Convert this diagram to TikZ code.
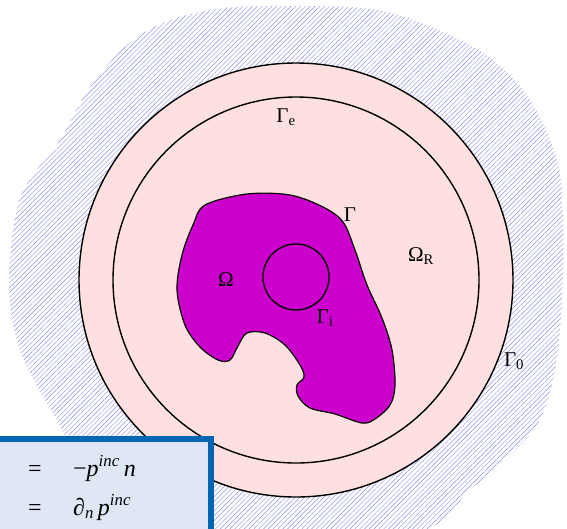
\documentclass[tikz,border=0pt]{standalone}
\usepackage{fontspec}
\setmainfont{Liberation Serif}
\usetikzlibrary{patterns.meta}
\definecolor{hatchc}{RGB}{140,140,240}
\definecolor{pinkc}{RGB}{255,224,224}
\definecolor{magc}{RGB}{204,0,204}
\definecolor{boxfill}{RGB}{223,230,244}
\definecolor{boxline}{RGB}{0,102,179}
\tikzset{
  lbl/.style={inner sep=0pt, font=\fontsize{21}{21}\selectfont},
  eqn/.style={inner sep=0pt, anchor=base west, font=\fontsize{24}{24}\selectfont},
  ring/.style={draw=black, line width=1.4pt},
}
\begin{document}
\begin{tikzpicture}[x=1pt,y=-1pt]
\useasboundingbox (0,0) rectangle (567,528);
\clip (0,0) rectangle (567,528);
\fill[white] (0,0) rectangle (567,528);
% hatched exterior region
\path[fill=white, pattern={Lines[angle=45,distance=3.4pt,line width=0.45pt]}, pattern color=hatchc]
  plot[smooth cycle, tension=0.6] coordinates {
  (60,140) (93,83) (143,33) (210,10) (293,6) (377,10) (443,32) (493,60)
  (530,100) (557,160) (563,220) (562,300) (555,370) (540,420) (515,450)
  (470,490) (425,530) (300,560) (120,520) (57,420) (20,350) (9,283) (18,205) (38,168)};
% outer circle
\draw[ring, fill=pinkc] (296,280) circle[radius=217];
% inner circle
\draw[ring] (296,280) circle[radius=183];
% scatterer
\draw[draw=black, line width=1.2pt, fill=magc]
  plot[smooth cycle, tension=0.55] coordinates {
  (205,205) (247,194) (290,195) (323,207) (343,222) (355,250) (367,285)
  (382,318) (392,350) (395,385) (390,405) (375,419) (362,423) (335,414)
  (310,408) (298,396) (297,385) (304,377) (300,365) (285,345) (265,333)
  (247,333) (238,346) (230,360) (218,360) (200,347) (185,325) (177,290)
  (182,255) (193,225)};
% inner small circle
\draw[ring] (296,277) circle[radius=33];
% labels
\node[lbl] (ge) at (286,117) {Γ\textsubscript{e}};
\node[lbl] (om) at (226,280) {Ω};
\node[lbl] (ga) at (350,215) {Γ};
\node[lbl] (gi) at (325,318) {Γ\textsubscript{i}};
\node[lbl] (omr) at (421,256) {Ω\textsubscript{R}};
\node[lbl] (g0) at (514,361) {Γ\textsubscript{0}};
% box
\draw[line width=6pt, draw=boxline, fill=boxfill] (-20,439) rectangle (211,560);
\node[eqn] (eq1) at (28,476) {=};
\node[eqn] (eq2) at (28,515) {=};
\node[eqn] (r1) at (73,476) {−\textit{p}\textsuperscript{\textit{inc}}\,\textit{n}};
\node[eqn] (r2) at (73,515) {∂\textsubscript{\textit{n}}\,\textit{p}\textsuperscript{\textit{inc}}};
\end{tikzpicture}
\end{document}
